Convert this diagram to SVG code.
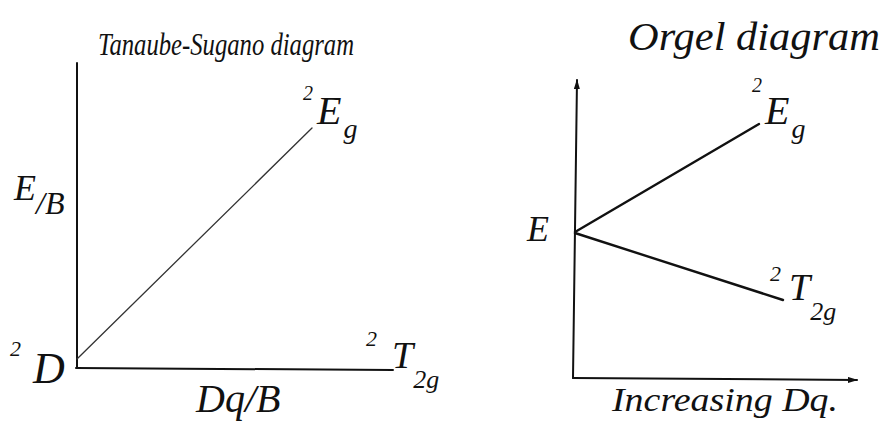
<svg xmlns="http://www.w3.org/2000/svg" width="892" height="424" viewBox="0 0 892 424">
<style>
text{font-family:"Liberation Serif","DejaVu Serif",serif;font-style:italic;fill:#111}
.ax{stroke:#111;stroke-width:2;fill:none;stroke-linecap:round}
.thin{stroke:#333;stroke-width:1.3;fill:none;stroke-linecap:round}
.ln{stroke:#111;stroke-width:2.4;fill:none;stroke-linecap:round}
</style>
<defs>
<marker id="arr" viewBox="0 0 10 6" refX="9" refY="3" markerWidth="10" markerHeight="6" markerUnits="userSpaceOnUse" orient="auto">
<path d="M0,0 L10,3 L0,6 Z" fill="#111"/>
</marker>
</defs>
<rect width="892" height="424" fill="#fff"/>
<g id="connectors">
<line class="ax" x1="77" y1="63" x2="77" y2="368"/>
<line class="ax" x1="76" y1="368" x2="393" y2="370"/>
<line class="thin" x1="77" y1="359" x2="312" y2="128"/>
<line class="ax" x1="573" y1="378" x2="577" y2="80" marker-end="url(#arr)"/>
<line class="ax" x1="573" y1="378" x2="857" y2="380" marker-end="url(#arr)"/>
<line class="ln" x1="575" y1="232" x2="759" y2="124"/>
<line class="ln" x1="575" y1="233" x2="783" y2="300"/>
</g>
<g id="ts-title"><text x="98" y="55" font-size="31" textLength="256" lengthAdjust="spacingAndGlyphs">Tanaube-Sugano diagram</text></g>
<g id="ts-yaxis"><text x="14" y="200" font-size="36">E<tspan font-size="32" dy="14">/B</tspan></text></g>
<g id="ts-Eg"><text x="303" y="100" font-size="20">2</text><text x="317" y="124" font-size="40">E<tspan font-size="28" dx="2" dy="14">g</tspan></text></g>
<g id="ts-D"><text x="10" y="356" font-size="22">2</text><text x="33" y="383" font-size="44">D</text></g>
<g id="ts-T2g"><text x="366" y="346" font-size="22">2</text><text x="392" y="368" font-size="38">T<tspan font-size="26" dy="20">2g</tspan></text></g>
<g id="ts-xaxis"><text x="196" y="412" font-size="40">Dq/B</text></g>
<g id="og-title"><text x="628" y="50" font-size="40" textLength="252" lengthAdjust="spacingAndGlyphs">Orgel diagram</text></g>
<g id="og-E"><text x="527" y="241" font-size="36">E</text></g>
<g id="og-Eg"><text x="752" y="92" font-size="20">2</text><text x="765" y="124" font-size="40">E<tspan font-size="28" dx="2" dy="14">g</tspan></text></g>
<g id="og-T2g"><text x="770" y="281" font-size="22">2</text><text x="789" y="300" font-size="38">T<tspan font-size="26" dy="20">2g</tspan></text></g>
<g id="og-xaxis"><text x="612" y="411" font-size="34" textLength="226" lengthAdjust="spacingAndGlyphs">Increasing Dq.</text></g>
</svg>
